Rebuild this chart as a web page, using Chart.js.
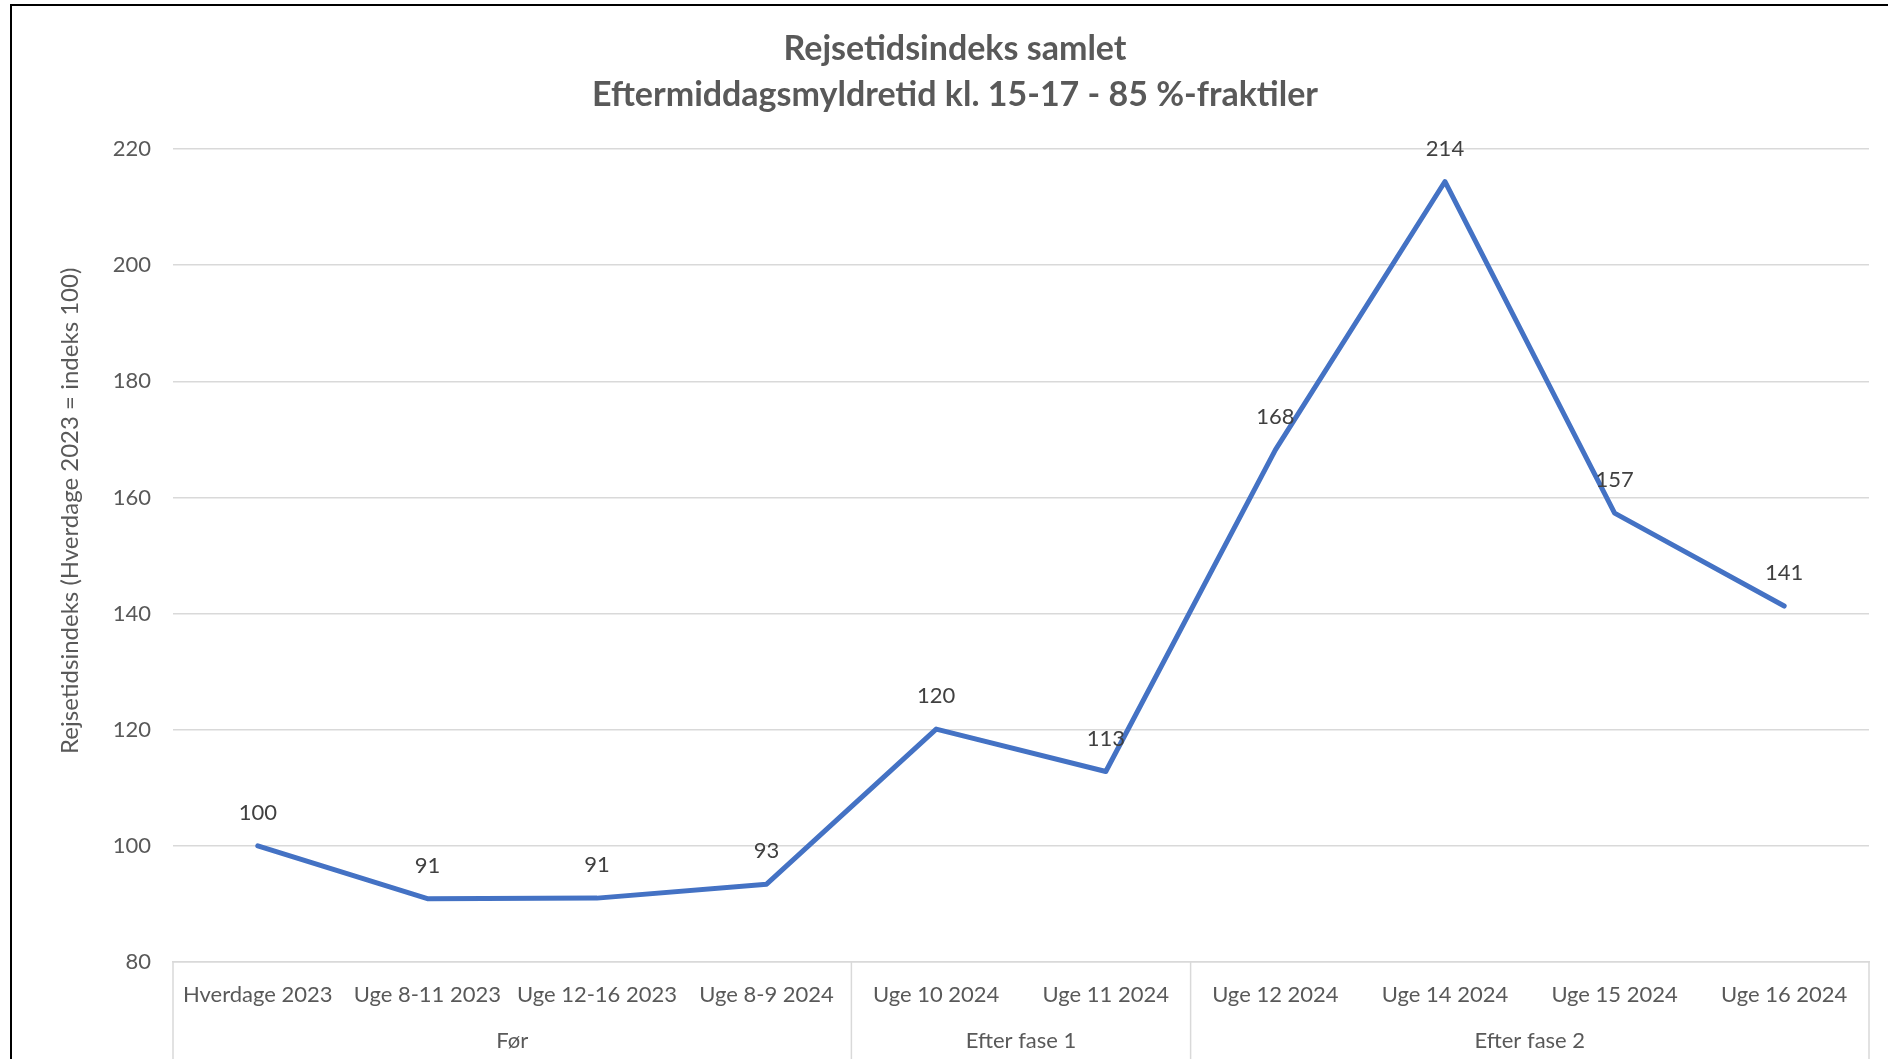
<!DOCTYPE html>
<html>
<head>
<meta charset="utf-8">
<script src="https://cdn.jsdelivr.net/npm/chart.js@4.4.1/dist/chart.umd.min.js"></script>
<style>
  html, body { margin: 0; padding: 0; background: #fff; overflow: hidden; }
  #frame {
    position: absolute; left: 10px; top: 4px; width: 2000px; height: 2000px;
    border-left: 2px solid #000; border-top: 2px solid #000;
  }
  #wrap { position: absolute; left: 0; top: 0; width: 1888px; height: 1059px; }
</style>
</head>
<body>
<div id="frame"></div>
<div id="wrap"><canvas id="chart"></canvas></div>
<script>
// categories and groups
const weeks = ["Hverdage 2023", "Uge 8-11 2023", "Uge 12-16 2023", "Uge 8-9 2024",
  "Uge 10 2024", "Uge 11 2024", "Uge 12 2024", "Uge 14 2024", "Uge 15 2024", "Uge 16 2024"];
const groupNames = ["Før", "Efter fase 1", "Efter fase 2"];
const groupSizes = [4, 2, 4];

// index values (85 %-fraktil)
const indexValues = [100, 90.9, 91.0, 93.4, 120.1, 112.8, 168.2, 214.4, 157.3, 141.3];

const yTicks = [80, 100, 120, 140, 160, 180, 200, 220];

const textGrey = "#595959";
const gridGrey = "#D9D9D9";
const fontFam = "Lato, 'Open Sans', sans-serif";

// value labels above each point
const pointLabels = {
  id: "pointLabels",
  afterDatasetsDraw(chart) {
    const ctx = chart.ctx;
    const meta = chart.getDatasetMeta(0);
    ctx.save();
    ctx.font = "22px " + fontFam;
    ctx.fillStyle = "#404040";
    ctx.textAlign = "center";
    ctx.textBaseline = "middle";
    meta.data.forEach((pt, i) => {
      ctx.fillText(Math.round(indexValues[i]), pt.x, pt.y - 33);
    });
    ctx.restore();
  }
};

// second row of the category axis: group names and dividers
const groupAxis = {
  id: "groupAxis",
  afterDraw(chart) {
    const ctx = chart.ctx;
    const x = chart.scales.x;
    const area = chart.chartArea;
    const bottom = chart.height;
    const half = (x.getPixelForValue(1) - x.getPixelForValue(0)) / 2;
    ctx.save();
    ctx.strokeStyle = gridGrey;
    ctx.lineWidth = 1.5;
    ctx.font = "22px " + fontFam;
    ctx.fillStyle = textGrey;
    ctx.textAlign = "center";
    ctx.textBaseline = "middle";
    let start = 0;
    const edges = [area.left];
    groupSizes.forEach((n, g) => {
      const x0 = x.getPixelForValue(start) - half;
      const x1 = x.getPixelForValue(start + n - 1) + half;
      ctx.fillText(groupNames[g], (x0 + x1) / 2, area.bottom + 79);
      edges.push(x1);
      start += n;
    });
    edges.forEach(ex => {
      ctx.beginPath();
      ctx.moveTo(ex, area.bottom);
      ctx.lineTo(ex, bottom);
      ctx.stroke();
    });
    // y axis title
    ctx.font = "24px " + fontFam;
    ctx.translate(70, area.top + (area.bottom - area.top) * 0.445);
    ctx.rotate(-Math.PI / 2);
    ctx.fillText("Rejsetidsindeks (Hverdage 2023 = indeks 100)", 0, 0);
    ctx.restore();
  }
};

const ctx = document.getElementById("chart").getContext("2d");
new Chart(ctx, {
  type: "line",
  data: {
    labels: weeks,
    datasets: [{
      label: "Rejsetidsindeks",
      data: indexValues,
      borderColor: "#4472C4",
      borderWidth: 5,
      pointRadius: 0,
      tension: 0,
      borderCapStyle: "round",
      borderJoinStyle: "round",
      fill: false
    }]
  },
  options: {
    responsive: true,
    maintainAspectRatio: false,
    animation: false,
    layout: { padding: { left: 41, right: 19, top: 0, bottom: 0 } },
    plugins: {
      legend: { display: false },
      tooltip: { enabled: false },
      title: {
        display: true,
        text: ["Rejsetidsindeks samlet", "Eftermiddagsmyldretid kl. 15-17 - 85 %-fraktiler"],
        color: textGrey,
        font: { family: fontFam, size: 34, weight: "bold", lineHeight: 46 / 34 },
        padding: { top: 26, bottom: 31 }
      }
    },
    scales: {
      x: {
        offset: true,
        grid: { display: false },
        border: { display: true, color: gridGrey, width: 1.5 },
        ticks: {
          color: textGrey,
          font: { family: fontFam, size: 22 },
          padding: 12,
          maxRotation: 0,
          autoSkip: false
        },
        afterFit(scale) { scale.height = 97; }
      },
      y: {
        min: 80,
        max: 220,
        afterBuildTicks(scale) { scale.ticks = yTicks.map(v => ({ value: v })); },
        grid: { color: gridGrey, lineWidth: 1.5, drawTicks: false },
        border: { display: false },
        ticks: {
          color: textGrey,
          font: { family: fontFam, size: 22 },
          padding: 22
        },
        afterFit(scale) { scale.width = 132; }
      }
    }
  },
  plugins: [pointLabels, groupAxis]
});
</script>
</body>
</html>
